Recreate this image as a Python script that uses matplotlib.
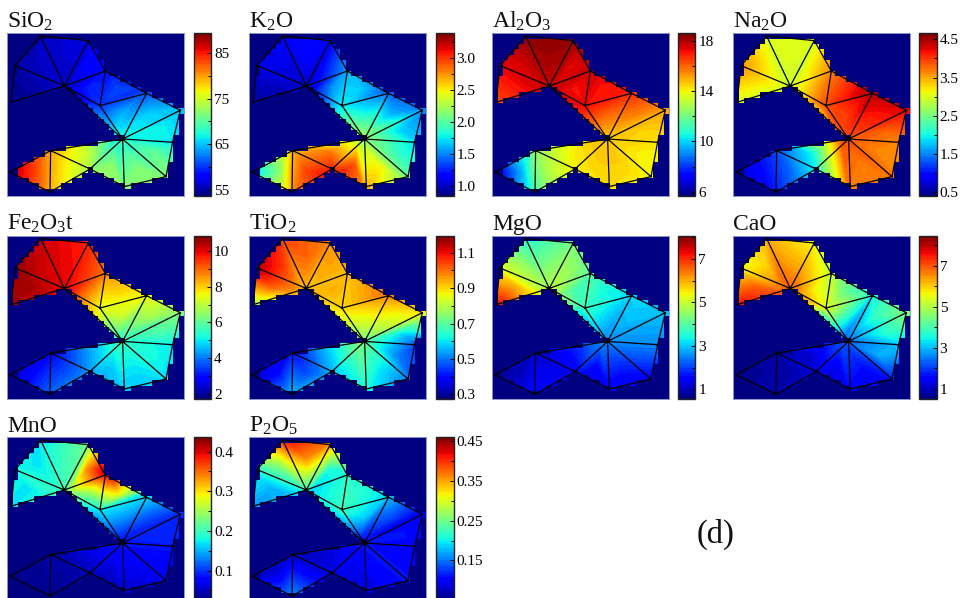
import numpy as np
import matplotlib
matplotlib.use('Agg')
import matplotlib.pyplot as plt
import matplotlib.tri as mtri
from matplotlib.colors import ListedColormap, Normalize
from matplotlib.cm import ScalarMappable

plt.rcParams['font.family'] = ['Liberation Serif', 'DejaVu Serif']
plt.rcParams['mathtext.default'] = 'regular'

W, H = 965, 598

# mesh nodes, A..Q, in pixels inside a panel
node_x = [33.3, 81.0, 7.7, 3.7, 57.0, 98.0, 92.7, 139.3, 173.0, 115.3, 165.3, 158.7, 117.0, 82.7, 43.3, 42.7, 2.7]
node_y = [2.7, 7.3, 32.3, 69.0, 52.7, 37.7, 72.3, 60.0, 77.0, 105.7, 109.0, 143.3, 153.3, 135.7, 117.3, 158.7, 139.0]
triangles = [[0, 1, 4], [0, 2, 4], [2, 3, 4], [1, 5, 4], [4, 5, 6], [5, 6, 7], [6, 7, 9], [7, 8, 9],
             [8, 9, 10], [9, 10, 11], [9, 11, 12], [9, 12, 13], [9, 13, 14], [13, 14, 15], [14, 15, 16], [4, 6, 9]]

# values at the nodes
sio2 = [56, 57, 55, 54, 56, 58.5, 60, 60, 64.5, 67, 66, 72, 72, 73, 80, 79, 89]
k2o = [1.15, 1.15, 1.1, 0.9, 1.0, 1.6, 1.75, 1.35, 1.45, 2.24, 1.66, 2.0, 2.7, 3.13, 2.57, 2.75, 1.55]
al2o3 = [18.4, 18.3, 17.3, 16.2, 17.6, 17.7, 17.2, 17.0, 15.2, 14.8, 14.2, 13.8, 14.3, 14.0, 12.3, 11.2, 5.8]
na2o = [3.0, 3.0, 3.7, 2.9, 2.9, 3.7, 3.9, 4.5, 4.3, 3.9, 3.6, 3.7, 3.7, 1.9, 1.25, 1.03, 0.6]
fe2o3t = [10.2, 9.6, 10.7, 10.4, 10, 8.7, 7.4, 7.7, 6.4, 5.5, 4.9, 4.8, 4.6, 4.3, 2.7, 4, 2]
tio2 = [1.05, 0.97, 1.17, 0.7, 0.92, 0.93, 0.9, 1.01, 0.9, 0.74, 0.43, 0.48, 0.62, 0.55, 0.39, 0.58, 0.32]
mgo = [3.4, 4.2, 5.2, 7.7, 4.9, 3.9, 3.7, 3.1, 3.0, 2.6, 2.5, 1.3, 1.2, 1.45, 1.1, 1.6, 0.7]
cao = [6.2, 5.45, 5.45, 7.8, 7.0, 4.9, 5.45, 3.5, 4.65, 2.25, 3.05, 1.55, 1.45, 1.15, 0.85, 0.9, 0.65]
mno = [0.17, 0.23, 0.18, 0.17, 0.2, 0.43, 0.173, 0.173, 0.095, 0.087, 0.087, 0.066, 0.054, 0.046, 0.041, 0.037, 0.033]
p2o5 = [0.43, 0.37, 0.214, 0.16, 0.185, 0.214, 0.222, 0.185, 0.09, 0.11, 0.1, 0.11, 0.083, 0.09, 0.07, 0.173, 0.07]

# values in the middle of each mesh triangle, same order as triangles
sio2_mid = [56.5, 56, 55, 58, 59.5, 60.8, 64.3, 65.5, 67, 70.5, 71.5, 72, 74.5, 77, 83, 61.5]
k2o_mid = [1.17, 1.1, 1.0, 1.25, 1.53, 1.68, 1.78, 1.6, 1.68, 1.9, 2.5, 2.93, 2.83, 2.96, 2.1, 1.76]
al2o3_mid = [18.2, 17.6, 17.1, 17.3, 17.1, 17.0, 16, 15.6, 14.5, 14.1, 14.5, 14.5, 14.1, 13, 9.5, 17]
na2o_mid = [3.04, 3.2, 3.2, 3.2, 3.5, 4.0, 4.0, 4.15, 3.8, 3.6, 3.65, 3.3, 2.0, 1.35, 0.95, 3.5]
fe2o3t_mid = [9.95, 10.2, 10.5, 9.5, 8.75, 7.95, 7.2, 6.75, 5.75, 5.2, 4.9, 4.7, 4.2, 3.55, 3, 7.75]
tio2_mid = [1.01, 1.06, 1.01, 0.95, 0.94, 0.94, 0.865, 0.85, 0.6, 0.515, 0.6, 0.64, 0.57, 0.46, 0.4, 0.865]
mgo_mid = [4.2, 4.5, 6, 4.55, 3.8, 3.4, 3.05, 3, 2.7, 2.2, 1.7, 1.45, 1.55, 1.3, 1, 3.2]
cao_mid = [6.2, 5.9, 6.9, 5.9, 5.6, 4.3, 3.7, 3.85, 3.7, 2.9, 1.55, 1.3, 1.15, 0.85, 0.75, 4.3]
mno_mid = [0.2, 0.17, 0.17, 0.33, 0.25, 0.29, 0.14, 0.107, 0.095, 0.075, 0.066, 0.058, 0.058, 0.037, 0.033, 0.15]
p2o5_mid = [0.36, 0.26, 0.173, 0.205, 0.205, 0.214, 0.185, 0.13, 0.11, 0.103, 0.1, 0.09, 0.083, 0.103, 0.09, 0.193]

names = ['SiO$_2$', 'K$_2$O', 'Al$_2$O$_3$', 'Na$_2$O', 'Fe$_2$O$_3$t', 'TiO$_2$', 'MgO', 'CaO', 'MnO', 'P$_2$O$_5$']
values = [sio2, k2o, al2o3, na2o, fe2o3t, tio2, mgo, cao, mno, p2o5]
mids = [sio2_mid, k2o_mid, al2o3_mid, na2o_mid, fe2o3t_mid, tio2_mid, mgo_mid, cao_mid, mno_mid, p2o5_mid]
ranges = [(53.7, 89.2), (0.84, 3.39), (5.63, 18.6), (0.39, 4.66), (1.72, 10.86),
          (0.276, 1.196), (0.57, 8.07), (0.51, 8.47), (0.025, 0.436), (0.05, 0.459)]
major_ticks = [['55', '65', '75', '85'], ['1.0', '1.5', '2.0', '2.5', '3.0'], ['6', '10', '14', '18'],
               ['0.5', '1.5', '2.5', '3.5', '4.5'], ['2', '4', '6', '8', '10'], ['0.3', '0.5', '0.7', '0.9', '1.1'],
               ['1', '3', '5', '7'], ['1', '3', '5', '7'], ['0.1', '0.2', '0.3', '0.4'], ['0.15', '0.25', '0.35', '0.45']]
minor_ticks = [[60, 70, 80], [1.25, 1.75, 2.25, 2.75, 3.25], [8, 12, 16], [1, 2, 3, 4], [3, 5, 7, 9],
               [0.4, 0.6, 0.8, 1.0], [2, 4, 6, 8], [2, 4, 6, 8], [0.05, 0.15, 0.25, 0.35], [0.1, 0.2, 0.3, 0.4]]

col_x = [7.3, 249.3, 492.3, 733.3]
bar_x = [193.7, 436.3, 678.0, 919.3]
row_y = [33.3, 235.7, 437.3]
panel_w, panel_h, bar_w = 177, 163, 17.5
cell = 5.36   # the block size of the original raster

jet64 = ListedColormap(plt.get_cmap('jet')(np.linspace(0, 1, 64)))
navy = jet64(0)

tri = mtri.Triangulation(node_x, node_y, triangles)
finder = tri.get_trifinder()


def pushed_out(t, d):
    # moves the outline nodes outwards, so the blocks at the rim are filled
    x, y = t.x.copy(), t.y.copy()
    shift = np.zeros((len(x), 2))
    for i, tr in enumerate(t.triangles):
        for k in range(3):
            if t.neighbors[i, k] == -1:
                a, b, c = tr[k], tr[(k + 1) % 3], tr[(k + 2) % 3]
                n = np.array([y[b] - y[a], x[a] - x[b]], float)
                n /= np.hypot(*n)
                if np.dot(n, [x[c] - x[a], y[c] - y[a]]) > 0:
                    n = -n
                shift[a] += n
                shift[b] += n
    ln = np.hypot(shift[:, 0], shift[:, 1])
    ln[ln == 0] = 1
    return x + d * shift[:, 0] / ln, y + d * shift[:, 1] / ln


# colour mesh: outline pushed out, each triangle split at its middle
fx, fy = pushed_out(tri, 7)
mid_x = np.array(node_x)[tri.triangles].mean(axis=1)
mid_y = np.array(node_y)[tri.triangles].mean(axis=1)
split = []
for k, (a, b, c) in enumerate(tri.triangles):
    m = len(node_x) + k
    split += [[a, b, m], [b, c, m], [c, a, m]]
fill_tri = mtri.Triangulation(np.r_[fx, mid_x], np.r_[fy, mid_y], split)

# cells of the raster that stay background colour
gx = np.arange(0, panel_w + cell, cell)
gy = np.arange(0, panel_h + cell, cell)
cx, cy = np.meshgrid((gx[:-1] + gx[1:]) / 2, (gy[:-1] + gy[1:]) / 2)
outside = finder(cx - 1.5, cy) == -1
mask_img = np.ma.masked_where(~outside, np.ones(outside.shape))

fig = plt.figure(figsize=(W / 100, H / 100), dpi=100)

for i in range(len(names)):
    col = i % 4
    row = i // 4
    ax = fig.add_axes([col_x[col] / W, 1 - (row_y[row] + panel_h) / H, panel_w / W, panel_h / H])
    vmin, vmax = ranges[i]
    levels = np.linspace(vmin, vmax, 65)
    ax.set_facecolor(navy)
    ax.tricontourf(fill_tri, values[i] + mids[i], levels=levels, cmap=jet64, extend='both', antialiased=False)
    ax.pcolormesh(gx, gy, mask_img, cmap=ListedColormap([navy]), shading='flat', linewidth=0, antialiased=False)
    ax.triplot(tri, color='black', lw=0.9, marker='None')
    ax.set_xlim(0, panel_w)
    ax.set_ylim(panel_h, 0)
    ax.set_xticks([])
    ax.set_yticks([])
    for s in ax.spines.values():
        s.set_color('#8f96c8')
        s.set_linewidth(0.7)
    ax.set_title(names[i], loc='left', pad=4, fontsize=17, color='#111111')

    cax = fig.add_axes([bar_x[col] / W, 1 - (row_y[row] + panel_h) / H, bar_w / W, panel_h / H])
    cb = fig.colorbar(ScalarMappable(Normalize(vmin, vmax), jet64), cax=cax)
    cb.set_ticks([float(t) for t in major_ticks[i]], labels=major_ticks[i])
    cb.set_ticks(minor_ticks[i], minor=True)
    cax.tick_params(which='major', direction='in', length=3, width=0.7, labelsize=11, pad=2, left=False, right=True)
    cax.tick_params(which='minor', direction='in', length=2, width=0.7, left=False, right=True)
    cb.outline.set_edgecolor('#222222')
    cb.outline.set_linewidth(1.0)

fig.text(716 / W, 1 - 534 / H, '(d)', fontsize=23.5, ha='center', va='center', color='#111111')

fig.savefig('out.png', dpi=100)
